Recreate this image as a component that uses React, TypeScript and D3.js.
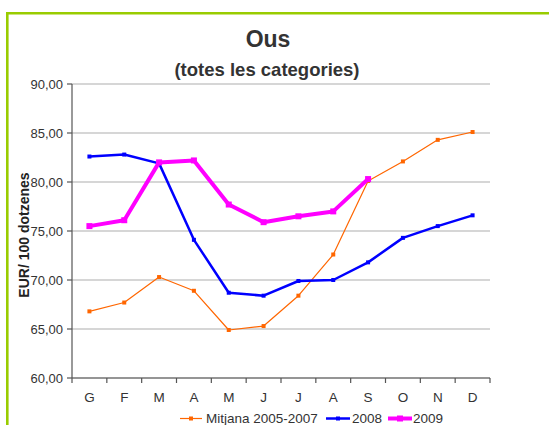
import React from "react";
import * as d3 from "d3";

const months = ["G", "F", "M", "A", "M", "J", "J", "A", "S", "O", "N", "D"];
const mitjana = [66.8, 67.7, 70.3, 68.9, 64.9, 65.3, 68.4, 72.6, 80.1, 82.1, 84.3, 85.1];
const y2008 = [82.6, 82.8, 81.9, 74.1, 68.7, 68.4, 69.9, 70.0, 71.8, 74.3, 75.5, 76.6];
const y2009 = [75.5, 76.1, 82.0, 82.2, 77.7, 75.9, 76.5, 77.0, 80.3];
const yTicks = [60, 65, 70, 75, 80, 85, 90];
const seriesNames = ["Mitjana 2005-2007", "2008", "2009"];

const W = 549;
const H = 425;
const left = 72;
const right = 490;
const top = 84;
const bottom = 378;
const font = "'Liberation Sans', Arial, Helvetica, sans-serif";

export default function App() {
  const x = d3.scaleBand<number>().domain(d3.range(12)).range([left, right]);
  const y = d3.scaleLinear().domain([60, 90]).range([bottom, top]);
  const cx = (i: number) => (x(i) as number) + x.bandwidth() / 2;
  const line = d3
    .line<number>()
    .x((_, i) => cx(i))
    .y((d) => y(d));
  const fmt = (v: number) => v.toFixed(2).replace(".", ",");

  const series = [
    { data: mitjana, color: "#ff6600", width: 1.2, marker: 4 },
    { data: y2008, color: "#0000ff", width: 2.5, marker: 4 },
    { data: y2009, color: "#ff00ff", width: 4, marker: 6 },
  ];

  const legendItems = [
    { x1: 180, x2: 202, tx: 206, name: seriesNames[0], s: series[0] },
    { x1: 326, x2: 350, tx: 352, name: seriesNames[1], s: series[1] },
    { x1: 388, x2: 412, tx: 413, name: seriesNames[2], s: series[2] },
  ];

  return (
    <svg
      width={W}
      height={H}
      style={{ position: "absolute", left: 0, top: 0, background: "#fff", fontFamily: font }}
    >
      <rect x={0} y={0} width={W} height={H} fill="#fff" />
      {/* frame */}
      <path d={`M7.3,${H + 5} V13.3 H${W + 5}`} fill="none" stroke="#99cc00" strokeWidth={2.6} />

      {/* title */}
      <text x={268} y={46.7} textAnchor="middle" fontSize={23} fontWeight="bold" fill="#333">
        Ous
      </text>
      <text x={267} y={76} textAnchor="middle" fontSize={18.5} fontWeight="bold" fill="#333">
        (totes les categories)
      </text>

      {/* gridlines */}
      {yTicks.map((t) => (
        <line key={"g" + t} x1={left} x2={right} y1={y(t)} y2={y(t)} stroke="#c8c8c8" strokeWidth={1.3} />
      ))}

      {/* y axis */}
      <line x1={left} x2={left} y1={top} y2={bottom} stroke="#555" strokeWidth={1.2} />
      {yTicks.map((t) => (
        <g key={"t" + t}>
          <line x1={left - 5} x2={left} y1={y(t)} y2={y(t)} stroke="#555" strokeWidth={1.2} />
          <text x={63} y={y(t) + 4.7} textAnchor="end" fontSize={13} fill="#333">
            {fmt(t)}
          </text>
        </g>
      ))}
      <text
        transform={`translate(28.5,${(top + bottom) / 2 + 4}) rotate(-90)`}
        textAnchor="middle"
        fontSize={14}
        fontWeight="bold"
        fill="#222"
      >
        EUR/ 100 dotzenes
      </text>

      {/* x axis */}
      <line x1={left} x2={right} y1={bottom} y2={bottom} stroke="#555" strokeWidth={1.2} />
      {d3.range(13).map((i) => {
        const xx = i < 12 ? (x(i) as number) : right;
        return <line key={"xt" + i} x1={xx} x2={xx} y1={bottom} y2={bottom + 5} stroke="#555" strokeWidth={1.2} />;
      })}
      {months.map((m, i) => (
        <text key={"m" + i} x={cx(i)} y={401.7} textAnchor="middle" fontSize={13.5} fill="#333">
          {m}
        </text>
      ))}

      {/* series */}
      {series.map((s, k) => (
        <g key={"s" + k}>
          <path d={line(s.data) || ""} fill="none" stroke={s.color} strokeWidth={s.width} strokeLinejoin="round" />
          {s.data.map((v, i) => (
            <rect
              key={i}
              x={cx(i) - s.marker / 2}
              y={y(v) - s.marker / 2}
              width={s.marker}
              height={s.marker}
              fill={s.color}
            />
          ))}
        </g>
      ))}

      {/* legend */}
      {legendItems.map((l, k) => (
        <g key={"l" + k}>
          <line x1={l.x1} x2={l.x2} y1={418.5} y2={418.5} stroke={l.s.color} strokeWidth={l.s.width} />
          <rect
            x={(l.x1 + l.x2) / 2 - l.s.marker / 2}
            y={418.5 - l.s.marker / 2}
            width={l.s.marker}
            height={l.s.marker}
            fill={l.s.color}
          />
          <text x={l.tx} y={422.5} fontSize={13.5} fill="#333">
            {l.name}
          </text>
        </g>
      ))}
    </svg>
  );
}
